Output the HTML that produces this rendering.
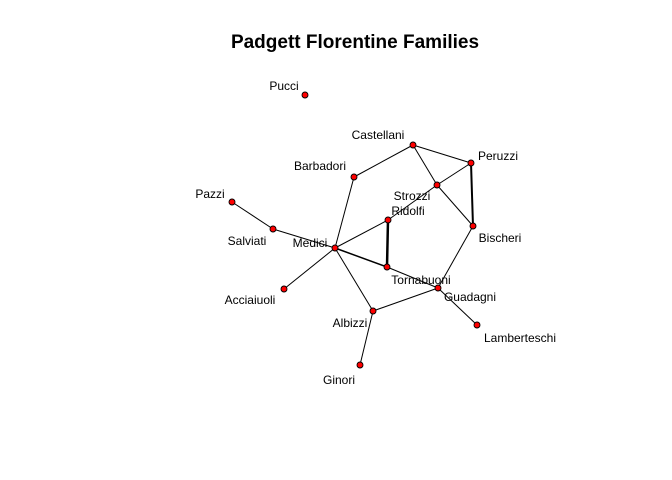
<!DOCTYPE html>
<html><head><meta charset="utf-8"><style>
html,body{margin:0;padding:0;background:#fff;}
svg{display:block;font-family:"Liberation Sans",Arial,sans-serif;}
</style></head><body>
<svg id="chart" width="672" height="480">
<rect width="672" height="480" fill="#fff"/>
<text x="355" y="48" text-anchor="middle" font-size="19" font-weight="bold">Padgett Florentine Families</text>
<g id="edges"></g>
<g id="nodes"></g>
</svg>
<script>
const names = ["Pucci","Castellani","Peruzzi","Barbadori","Strozzi","Pazzi","Ridolfi","Salviati","Bischeri","Medici","Tornabuoni","Guadagni","Acciaiuoli","Albizzi","Lamberteschi","Ginori"];
const nodeX = [305,413,471,354,437,232,388,273,473,335,387,438,284,373,477,360];
const nodeY = [95,145,163,177,185,202,220,229,226,248,267,288,289,311,325,365];
const labelDX = [-21,-35,27,-34,-25,-22,20,-26,27,-25,34,32,-34,-23,43,-21];
const labelDY = [-5,-6,-3,-7,15,-4,-5,16,16,-1,17,13,15,16,17,19];
const edgeFrom = ["Acciaiuoli","Albizzi","Albizzi","Albizzi","Barbadori","Barbadori","Bischeri","Bischeri","Bischeri","Castellani","Castellani","Guadagni","Guadagni","Medici","Medici","Medici","Pazzi","Peruzzi","Ridolfi","Ridolfi"];
const edgeTo = ["Medici","Ginori","Guadagni","Medici","Castellani","Medici","Guadagni","Peruzzi","Strozzi","Peruzzi","Strozzi","Lamberteschi","Tornabuoni","Ridolfi","Salviati","Tornabuoni","Salviati","Strozzi","Strozzi","Tornabuoni"];
const edgeWeight = [1,1,1,1,1,1,1,2,1,1,1,1,1,1,1,1.5,1,1,1,2.5];
const NS="http://www.w3.org/2000/svg";
const eg=document.getElementById("edges"), ng=document.getElementById("nodes");
function px(n){return nodeX[names.indexOf(n)];}
function py(n){return nodeY[names.indexOf(n)];}
for(let i=0;i<edgeFrom.length;i++){
  const l=document.createElementNS(NS,"line");
  l.setAttribute("x1",px(edgeFrom[i]));l.setAttribute("y1",py(edgeFrom[i]));
  l.setAttribute("x2",px(edgeTo[i]));l.setAttribute("y2",py(edgeTo[i]));
  l.setAttribute("stroke","#000");l.setAttribute("stroke-width",edgeWeight[i]);
  
  
  eg.appendChild(l);
}
for(let i=0;i<names.length;i++){
  const c=document.createElementNS(NS,"circle");
  c.setAttribute("cx",nodeX[i]);c.setAttribute("cy",nodeY[i]);c.setAttribute("r","3");
  c.setAttribute("fill","#ff0000");c.setAttribute("stroke","#000");c.setAttribute("stroke-width","0.9");
  
  
  ng.appendChild(c);
  const t=document.createElementNS(NS,"text");
  t.setAttribute("x",nodeX[i]+labelDX[i]);t.setAttribute("y",nodeY[i]+labelDY[i]);
  t.setAttribute("text-anchor","middle");t.setAttribute("font-size","12");
  t.textContent=names[i];
  
  
  ng.appendChild(t);
}
</script>
</body></html>
